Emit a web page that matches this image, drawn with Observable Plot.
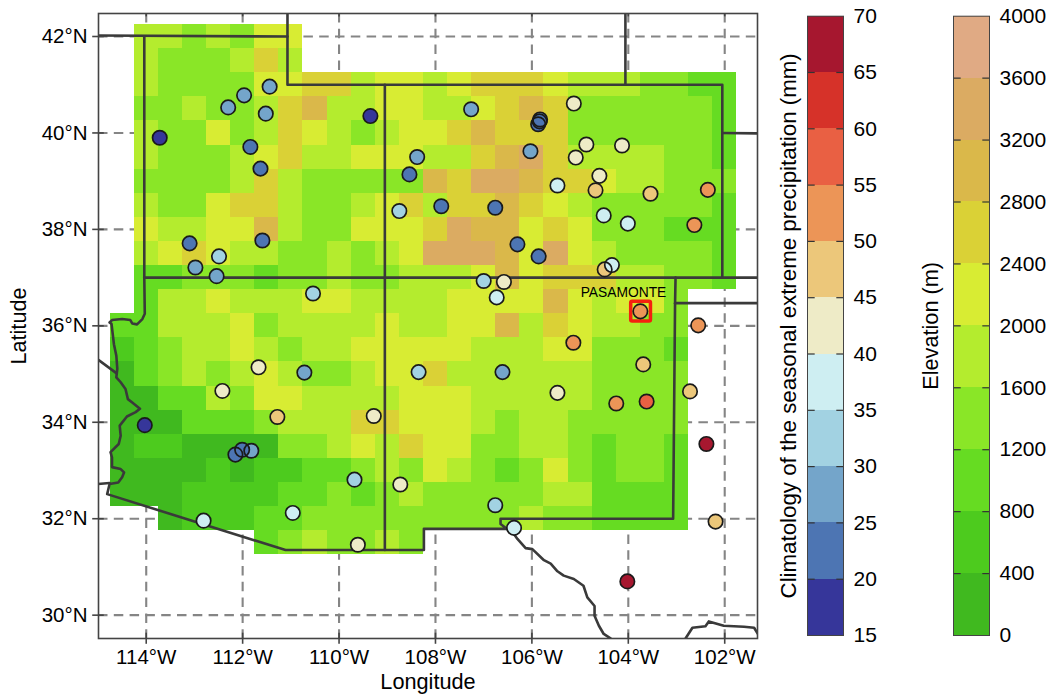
<!DOCTYPE html>
<html><head><meta charset="utf-8">
<script src="https://cdn.jsdelivr.net/npm/d3@7"></script>
<script src="https://cdn.jsdelivr.net/npm/@observablehq/plot@0.6"></script>
<style>
html,body{margin:0;padding:0;background:#fff}
#fig{position:relative;width:1046px;height:695px;overflow:hidden;font-family:"Liberation Sans",Arial,sans-serif}
#fig svg{position:absolute;top:0;overflow:visible;background:transparent}
</style></head><body><div id="fig"></div>
<script>
const _ = null;
const cellLons = d3.range(26).map(i => -114.5 + i * 0.5);
const cellLats = [42,41.5,41,40.5,40,39.5,39,38.5,38,37.5,37,36.5,36,35.5,35,34.5,34,33.5,33,32.5,32,31.5];
const elev420 = [_,1800,1800,1400,1800,1400,2200,2200,_,_,_,_,_,_,_,_,_,_,_,_,_,_,_,_,_,_];
const elev415 = [_,1800,1400,1400,1400,1800,2600,1800,_,_,_,_,_,_,_,_,_,_,_,_,_,_,_,_,_,_];
const elev410 = [_,1800,1400,1400,1400,1400,2200,2200,2600,2600,1800,2200,2200,1800,2200,2600,2600,2600,2200,1800,1800,1800,1400,1400,1000,1000];
const elev405 = [_,1400,1400,1800,1400,1400,1800,2600,3000,1800,1800,2200,2200,1800,1800,2200,2600,3000,2600,1400,1400,1400,1400,1400,1400,1000];
const elev400 = [_,1800,1400,1400,2200,1400,1800,2600,2200,1800,1400,1800,2200,2200,2600,3000,2600,2600,2600,1400,1400,1400,1400,1400,1400,1000];
const elev395 = [_,1800,1400,1400,1400,1800,2200,2600,1800,1800,2200,2200,2200,1800,1800,2600,3000,3400,2600,1800,1800,1800,1800,1400,1400,1000];
const elev390 = [_,1400,1400,1400,1400,1800,2600,1800,1400,1400,1400,1400,1400,3000,2600,3400,3400,3000,2600,2600,2200,1800,1800,1400,1400,1400];
const elev385 = [_,1800,1400,1400,2200,2600,2600,1800,1400,1400,1800,2200,2600,1800,2600,2600,3000,2600,2200,1800,1400,1400,1400,1400,1400,1000];
const elev380 = [_,2200,1800,1800,2200,2200,3000,1800,1400,1400,2200,2200,2200,2600,3400,3000,3000,2200,2600,2200,1400,1400,1400,1000,1000,1000];
const elev375 = [_,1800,2200,2600,2200,1800,1800,1400,1400,1800,1400,1800,2200,3400,3400,3400,3000,2200,3400,2200,1800,1400,1400,1400,1400,1000];
const elev370 = [_,1000,1000,1400,1400,1400,1000,1400,1400,1800,1400,1400,1800,1800,1800,2200,3000,2200,2600,2600,2600,1800,1800,1400,1400,1000];
const elev365 = [_,1000,1800,1800,2200,1800,1800,1800,2200,2200,1800,1800,1800,1800,2200,2200,2200,2200,3000,2200,1800,2200,2200,1400,_,_];
const elev360 = [1000,1000,1800,1800,1800,2200,1400,1800,1800,1800,1800,2200,1800,1800,2200,2200,3000,1800,2600,2200,1800,1800,1400,1400,_,_];
const elev355 = [600,1000,1400,1800,1800,2200,1800,1400,1800,1800,2200,2200,2200,2200,2200,1800,1800,1800,2200,2200,1400,1400,1400,1000,_,_];
const elev350 = [200,1000,1400,1800,1400,1800,2200,1800,1400,1400,1800,2200,2200,2600,1800,1800,1800,1800,1800,1800,1400,1400,1400,1400,_,_];
const elev345 = [200,200,1000,1000,1800,1400,2200,2200,1800,1800,1800,1800,2200,2200,2200,1800,1800,1800,1800,1800,1400,1400,1400,1400,_,_];
const elev340 = [200,200,200,1000,1000,1000,1400,1800,1800,1800,2600,2600,2200,2200,2200,1800,1400,1800,1800,1400,1400,1400,1400,1400,_,_];
const elev335 = [200,600,600,200,200,200,200,1400,1400,1800,2200,1800,2600,2200,2200,1400,1400,1800,1800,1400,1000,1400,1400,1000,_,_];
const elev330 = [200,200,200,200,600,200,600,600,1000,1000,1400,1800,1400,2200,1800,1400,1000,1400,2200,1400,1000,1400,1400,1000,_,_];
const elev325 = [200,200,200,600,600,600,600,1000,1000,1400,1000,1400,1800,1400,1400,1400,1400,1400,1800,1800,1000,1000,1000,1000,_,_];
const elev320 = [_,_,200,600,600,600,1000,1000,1400,1400,1400,1400,1400,1400,1400,1400,1400,1800,1400,1400,1000,1000,1000,1000,_,_];
const elev315 = [_,_,_,_,_,_,1000,1400,1800,1400,1400,1800,1400,_,_,_,_,_,_,_,_,_,_,_,_,_];
const elevRows = [elev420,elev415,elev410,elev405,elev400,elev395,elev390,elev385,elev380,elev375,elev370,elev365,elev360,elev355,elev350,elev345,elev340,elev335,elev330,elev325,elev320,elev315];

const elevBreaks = [0,400,800,1200,1600,2000,2400,2800,3200,3600,4000];
const elevColors = ["#40b91f","#4dcb1e","#66dc22","#8ae627","#b4ec2e","#d8ec33","#dad136","#dab84a","#dbab62","#e0aa84"];
const precipBreaks = [15,20,25,30,35,40,45,50,55,60,65,70];
const precipColors = ["#36369a","#4d75b3","#74a5ca","#a2d2e2","#ceeef2","#eeebc7","#ecc77a","#ec9557","#e96043","#d63229","#a6172f"];

const stationLon = [-111.44,-111.97,-112.30,-111.52,-109.35,-113.72,-111.84,-108.38,-111.63,-108.54,-108.75,-113.10,-111.59,-112.49,-112.98,-112.54,-107.26,-105.13,-105.83,-105.84,-105.87,-104.87,-104.13,-105.09,-106.03,-104.60,-104.68,-105.47,-103.54,-102.35,-107.88,-106.76,-104.51,-104.01,-102.63,-106.30,-105.86,-104.49,-104.34,-107.00,-106.58,-106.73,-103.75,-102.55,-105.14,-103.69,-106.61,-102.72,-105.47,-104.25,-103.62,-102.38,-106.76,-102.19,-106.37,-104.02,-110.54,-111.67,-110.72,-108.35,-112.42,-111.28,-109.28,-114.03,-111.82,-112.01,-112.15,-109.68,-108.73,-110.96,-112.81,-109.61];
const stationLat = [40.96,40.78,40.53,40.40,40.35,39.90,39.71,39.50,39.26,39.14,38.38,37.71,37.77,37.44,37.21,37.03,40.49,40.61,40.28,40.24,40.18,39.76,39.74,39.49,39.62,39.11,38.81,38.91,38.74,38.82,38.48,38.45,38.29,38.12,38.09,37.69,37.44,37.17,37.26,36.93,36.91,36.59,36.30,36.01,35.65,35.20,35.04,34.64,34.61,34.39,34.43,33.55,32.28,31.94,31.81,30.70,36.67,35.14,35.03,35.04,34.65,34.11,34.13,33.94,33.41,33.43,33.33,32.81,32.71,32.12,31.96,31.46];
const stationPrecip = [27.5,27.5,27.5,27.5,17.5,17.5,22.5,27.5,22.5,22.5,32.5,22.5,22.5,32.5,27.5,27.5,27.5,42.5,27.5,22.5,22.5,42.5,42.5,42.5,27.5,42.5,47.5,37.5,47.5,52.5,22.5,22.5,37.5,37.5,52.5,22.5,22.5,47.5,37.5,32.5,42.5,37.5,52.5,52.5,52.5,47.5,27.5,47.5,42.5,52.5,57.5,67.5,32.5,47.5,37.5,67.5,32.5,42.5,27.5,32.5,42.5,47.5,42.5,17.5,27.5,22.5,22.5,32.5,42.5,37.5,37.5,42.5];

const westBorder = [[-114.04,42],[-114.04,37],[-114.03,36.25],[-114.08,36.14],[-114.19,36.03],[-114.29,36.05],[-114.33,36.12],[-114.50,36.14],[-114.71,36.12],[-114.76,36.07],[-114.72,36.04],[-114.67,35.62],[-114.62,35.38],[-114.60,35.11],[-114.62,34.93],[-114.53,34.83],[-114.43,34.69],[-114.38,34.48],[-114.29,34.41],[-114.13,34.28],[-114.22,34.21],[-114.40,34.12],[-114.55,33.93],[-114.53,33.72],[-114.57,33.55],[-114.74,33.38],[-114.71,33.27],[-114.71,33.07],[-114.53,33.03],[-114.46,32.96],[-114.50,32.86],[-114.58,32.75],[-114.76,32.72],[-114.81,32.51],[-111.11,31.35],[-108.24,31.35],[-108.24,31.79],[-106.52,31.79],[-106.65,31.89],[-106.65,32],[-103.07,32],[-103.03,36.47],[-103.02,37]];
const northBorder = [[-115,42.02],[-111.07,42],[-111.07,41],[-102.05,41],[-102.05,37]];
const wyoming = [[-111.07,42.48],[-111.07,42]];
const nebraska = [[-104.06,42.48],[-104.06,41]];
const kansasNorth = [[-102.05,40],[-101.31,39.99]];
const line37 = [[-114.04,37],[-101.31,37]];
const line365 = [[-103.03,36.47],[-101.31,36.47]];
const fourCorners = [[-109.05,41],[-109.05,31.35]];
const nvCa = [[-115,35.3],[-114.62,35.02]];
const caMex = [[-115,32.72],[-114.76,32.74]];
const rioGrande = [[-106.45,31.79],[-106.30,31.58],[-106.13,31.39],[-105.99,31.37],[-105.75,31.14],[-105.61,31.07],[-105.47,30.91],[-105.34,30.82],[-105.13,30.75],[-104.93,30.61],[-104.85,30.37],[-104.70,30.19],[-104.70,29.99],[-104.61,29.78],[-104.51,29.61],[-104.37,29.52]];
const rioBend = [[-102.81,29.52],[-102.67,29.74],[-102.40,29.77],[-102.33,29.87],[-102.02,29.78],[-101.60,29.76],[-101.39,29.74],[-101.31,29.61]];
const borders = [westBorder,northBorder,wyoming,nebraska,kansasNorth,line37,line365,fourCorners,nvCa,caMex,rioGrande,rioBend];

const lonTicks = [-114,-112,-110,-108,-106,-104,-102];
const latTicks = [30,32,34,36,38,40,42];
const elevTicks = d3.range(0,4001,400);
const precipTicks = d3.range(15,71,5);
const lonRange = [-114.99,-101.32];
const latRange = [29.516,42.477];

const font = '"Liberation Sans",Arial,sans-serif';
const elevScale = d3.scaleThreshold().domain(elevBreaks.slice(1,-1)).range(elevColors);
const precipScale = d3.scaleThreshold().domain(precipBreaks.slice(1,-1)).range(precipColors);

const cells = [];
elevRows.forEach((row,j)=>row.forEach((v,i)=>{ if(v!==null) cells.push({lon:cellLons[i],lat:cellLats[j],v}); }));
const stations = stationLon.map((lon,i)=>({lon,lat:stationLat[i],p:stationPrecip[i]}));

const map = Plot.plot({
  width: 800, height: 695, marginLeft: 98, marginRight: 43, marginTop: 13, marginBottom: 57,
  style:{fontFamily:font,background:"transparent"},
  x:{domain:lonRange}, y:{domain:latRange},
  color:{type:"identity"},
  marks:[
    Plot.ruleX(lonTicks,{stroke:"#858585",strokeWidth:2.1,strokeDasharray:"9.5,6.3"}),
    Plot.ruleY(latTicks,{stroke:"#858585",strokeWidth:2.1,strokeDasharray:"9.5,6.3"}),
    Plot.rect(cells,{x1:d=>d.lon-.25,x2:d=>d.lon+.25,y1:d=>d.lat-.25,y2:d=>d.lat+.25,fill:d=>elevScale(d.v),shapeRendering:"crispEdges"}),
    ...borders.map(b=>Plot.line(b,{x:"0",y:"1",stroke:"#3a3a3a",strokeWidth:2.6,curve:"linear",clip:"frame"})),
    Plot.rect([{x1:-103.94,x2:-103.53,y1:36.09,y2:36.50}],{x1:"x1",x2:"x2",y1:"y1",y2:"y2",fill:"none",stroke:"#f5200f",strokeWidth:3.5,rx:1.5}),
    Plot.dot(stations,{x:"lon",y:"lat",r:7.2,fill:d=>precipScale(d.p)}),
    Plot.dot(stations,{x:"lon",y:"lat",r:7.2,fill:"none",stroke:"#1a1a1a",strokeWidth:1.7}),
    Plot.text(["PASAMONTE"],{x:-104.1,y:36.69,fontSize:13.8,fill:"#000"}),
    Plot.frame({stroke:"#444",strokeWidth:1.6}),
    Plot.ruleX(lonTicks,{y1:latRange[0]-.12,y2:latRange[0]+.11,stroke:"#444",strokeWidth:1.6}),
    Plot.ruleX(lonTicks,{y1:latRange[1],y2:latRange[1]-.07,stroke:"#444",strokeWidth:1.6}),
    Plot.ruleY(latTicks,{x1:lonRange[0]-.12,x2:lonRange[0]+.12,stroke:"#444",strokeWidth:1.6}),
    Plot.axisX({ticks:lonTicks,tickFormat:d=>`${-d}°W`,tickSize:0,tickPadding:11,fontSize:20.5,label:null}),
    Plot.axisY({ticks:latTicks,tickFormat:d=>`${d}°N`,tickSize:0,tickPadding:11,fontSize:20.5,label:null}),
    Plot.text(["Longitude"],{frameAnchor:"bottom",dy:50,fontSize:21.7,fill:"#000"}),
    Plot.text(["Latitude"],{frameAnchor:"left",dx:-79,rotate:-90,textAnchor:"middle",fontSize:21.7,fill:"#000"})
  ]
});
map.style.left="0px";
document.getElementById("fig").appendChild(map);

function colorbar(left,breaks,colors,ticks,title,titleDx,titleSize){
  const bands = colors.map((c,i)=>({y1:breaks[i],y2:breaks[i+1],c}));
  const inner = ticks.slice(1,-1);
  const bar = Plot.plot({
    width:36, height:695, marginLeft:0, marginRight:0, marginTop:15.7, marginBottom:60,
    style:{fontFamily:font,background:"transparent"},
    x:{domain:[0,1],axis:null}, y:{domain:[breaks[0],breaks[breaks.length-1]]},
    color:{type:"identity"},
    marks:[
      Plot.rect(bands,{x1:0,x2:1,y1:"y1",y2:"y2",fill:"c",shapeRendering:"crispEdges"}),
      Plot.link(inner,{x1:0,x2:.2,y1:d=>d,y2:d=>d,stroke:"#333",strokeWidth:1.2}),
      Plot.link(inner,{x1:.8,x2:1,y1:d=>d,y2:d=>d,stroke:"#333",strokeWidth:1.2}),
      Plot.frame({stroke:"#444"}),
      Plot.axisY({anchor:"right",ticks,tickFormat:d=>`${d}`,tickSize:0,tickPadding:10,fontSize:21,label:null}),
      Plot.text([title],{frameAnchor:"left",dx:titleDx,rotate:-90,textAnchor:"middle",fontSize:titleSize,fill:"#000"})
    ]
  });
  bar.style.left=left+"px";
  document.getElementById("fig").appendChild(bar);
}
colorbar(807,precipBreaks,precipColors,precipTicks,"Climatology of the seasonal extreme precipitation (mm)",-19,22.3);
colorbar(952.5,elevBreaks,elevColors,elevTicks,"Elevation (m)",-22,21.7);
</script></body></html>
